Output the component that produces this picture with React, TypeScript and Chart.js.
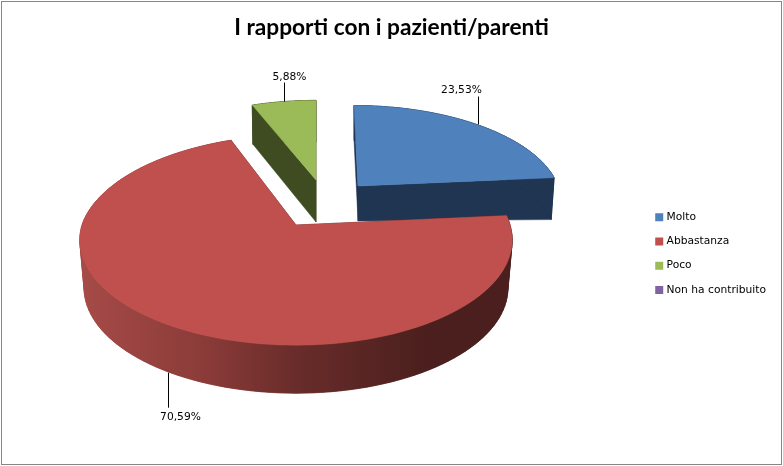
import React, { useEffect, useRef } from "react";
import { Chart, registerables } from "chart.js";

Chart.register(...registerables);

const categories = ["Molto", "Abbastanza", "Poco", "Non ha contribuito"];
const shares = [23.53, 70.59, 5.88, 0];
const chartTitle = "I rapporti con i pazienti/parenti";

const topColours = ["#4f81bd", "#c0504d", "#9bbb59", "#8064a2"];
const wallColours = ["#1f3552", "#4a1f1d", "#3f4c22", "#3f3151"];

// Projection of each exploded slice: apex, radii, perspective, thickness.
const frames: any[] = [
  { ax: 358, ay: 186, A: 200, B: 92, k: 0.143, s: -4.6, d0: 35, dc: 7, shrink: 0.985, leader: 28, ldx: 1, tdx: -17, tdy: -6 },
  { ax: 296, ay: 225, A: 214, B: 103, k: 0.143, s: 4, d0: 48, dc: 0, shrink: 0.98, leader: 35, ldx: 0, tdx: 12, tdy: 10 },
  { ax: 316, ay: 180, A: 200, B: 91, k: 0.143, s: 0, d0: 42, dc: 8, shrink: 0.99, leader: 19, ldx: 0, tdx: 5, tdy: -5 },
];
const drawOrder = [0, 2, 1];

const LABEL_FONT = "10.7px 'DejaVu Sans'";

function top(f: any, t: number) {
  const X = Math.sin(t), Y = Math.cos(t), w = 1 + f.k * Y;
  return { x: f.ax + (f.A * X + f.s * Math.max(Y, 0)) / w, y: f.ay - (f.B * Y) / w, X };
}
function bottom(f: any, t: number) {
  const p = top(f, t);
  return { x: f.ax + (p.x - f.ax) * f.shrink, y: p.y + f.d0 + f.dc * p.X };
}
function poly(ctx: CanvasRenderingContext2D, pts: { x: number; y: number }[], fill: any) {
  ctx.beginPath();
  pts.forEach((p, i) => (i ? ctx.lineTo(p.x, p.y) : ctx.moveTo(p.x, p.y)));
  ctx.closePath();
  ctx.fillStyle = fill;
  ctx.fill();
  ctx.strokeStyle = fill;
  ctx.lineWidth = 0.5;
  ctx.stroke();
}

const pie3d = {
  id: "pie3d",
  beforeDatasetDraw(chart: any) {
    const ctx: CanvasRenderingContext2D = chart.ctx;
    const arcs = chart.getDatasetMeta(0).data;
    ctx.save();
    for (const i of drawOrder) {
      const f = frames[i];
      const t0 = arcs[i].startAngle + Math.PI / 2;
      const t1 = arcs[i].endAngle + Math.PI / 2;
      const n = 120;
      const rim: any[] = [];
      const under: any[] = [];
      for (let j = 0; j <= n; j++) {
        const t = t0 + ((t1 - t0) * j) / n;
        rim.push(top(f, t));
        under.push(bottom(f, t));
      }
      const apex = { x: f.ax, y: f.ay };
      const apexLow = { x: f.ax, y: f.ay + f.d0 };
      let wall: any = wallColours[i];
      if (i === 1) {
        const g = ctx.createLinearGradient(85, 0, 430, 0);
        g.addColorStop(0, "#a54a47");
        g.addColorStop(0.35, "#8a3b38");
        g.addColorStop(0.62, "#682c2a");
        g.addColorStop(1, "#4a1f1d");
        wall = g;
      }
      poly(ctx, [apex, rim[0], under[0], apexLow], wallColours[i]);
      poly(ctx, [apex, rim[n], under[n], apexLow], wallColours[i]);
      // Narrow quads give the silhouette; the strip on top hides their seams.
      for (let j = 0; j < n; j++) {
        poly(ctx, [rim[j], rim[j + 1], under[j + 1], under[j]], wall);
      }
      poly(ctx, [...rim, ...under.slice().reverse()], wall);
      poly(ctx, [apex, ...rim], topColours[i]);
    }
    ctx.restore();
    return false;
  },
  afterDatasetsDraw(chart: any) {
    const ctx: CanvasRenderingContext2D = chart.ctx;
    const arcs = chart.getDatasetMeta(0).data;
    ctx.save();
    ctx.font = LABEL_FONT;
    ctx.textAlign = "center";
    ctx.textBaseline = "middle";
    frames.forEach((f, i) => {
      const mid = (arcs[i].startAngle + arcs[i].endAngle) / 2 + Math.PI / 2;
      const from = mid > Math.PI / 2 && mid < (3 * Math.PI) / 2 ? bottom(f, mid) : top(f, mid);
      const x = Math.round(top(f, mid).x) + 0.5 + f.ldx;
      const dir = f.tdy > 0 ? 1 : -1;
      const y2 = from.y + dir * f.leader;
      ctx.strokeStyle = "#000";
      ctx.lineWidth = 1;
      ctx.beginPath();
      ctx.moveTo(x, from.y);
      ctx.lineTo(x, y2);
      ctx.stroke();
      ctx.fillStyle = "#000";
      ctx.fillText(shares[i].toFixed(2).replace(".", ",") + "%", x + f.tdx, y2 + f.tdy);
    });
    ctx.restore();
  },
  afterDraw(chart: any) {
    const ctx: CanvasRenderingContext2D = chart.ctx;
    ctx.save();
    ctx.strokeStyle = "#868686";
    ctx.lineWidth = 1;
    ctx.strokeRect(1.5, 1.5, 780, 463);
    ctx.restore();
  },
};

export default function App() {
  const ref = useRef<HTMLCanvasElement>(null);
  useEffect(() => {
    document.body.style.margin = "0";
    const chart = new Chart(ref.current!, {
      type: "pie",
      data: {
        labels: categories,
        datasets: [
          {
            data: shares,
            backgroundColor: topColours,
            borderColor: topColours,
            borderWidth: 4,
            borderJoinStyle: "miter",
          },
        ],
      },
      options: {
        responsive: false,
        animation: false,
        layout: { padding: { left: 7, right: 7, top: 0, bottom: 0 } },
        plugins: {
          tooltip: { enabled: false },
          title: {
            display: true,
            text: chartTitle,
            color: "#000",
            font: { family: "Lato", size: 22.7, weight: "bold" },
            padding: { top: 14, bottom: 0 },
          },
          legend: {
            position: "right",
            fullSize: false,
            labels: {
              boxWidth: 4,
              boxHeight: 4,
              padding: 13.5,
              color: "#000",
              font: { family: "'DejaVu Sans'", size: 10.7 },
            },
          },
        },
      },
      plugins: [pie3d],
    } as any);
    return () => chart.destroy();
  }, []);
  return <canvas ref={ref} width={783} height={466} style={{ display: "block" }} />;
}
